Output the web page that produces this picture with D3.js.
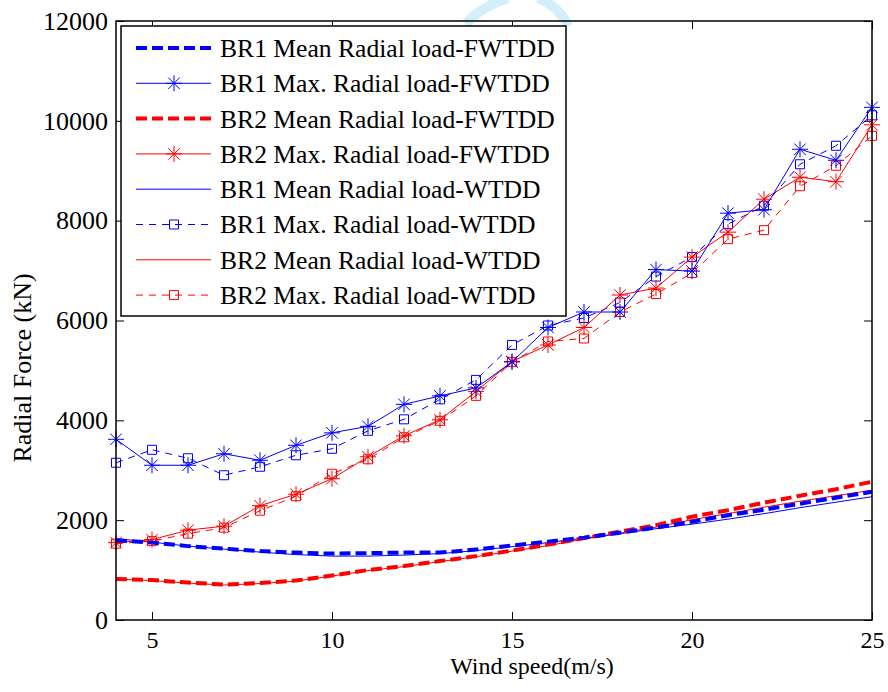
<!DOCTYPE html>
<html>
<head>
<meta charset="utf-8">
<script src="https://cdn.jsdelivr.net/npm/d3@7"></script>
<style>
  body { margin: 0; background: #fff; }
  svg text { font-family: "Liberation Serif", "Times New Roman", serif; fill: #000; }
</style>
</head>
<body>
<script>
// wind speeds (m/s)
const windSpeed = [4, 5, 6, 7, 8, 9, 10, 11, 12, 13, 14, 15, 16, 17, 18, 19, 20, 21, 22, 23, 24, 25];

// radial loads (kN)
const br1MeanFWTDD = [1600, 1550, 1480, 1430, 1380, 1350, 1330, 1340, 1350, 1350, 1410, 1490, 1570, 1650, 1750, 1850, 1970, 2100, 2210, 2330, 2450, 2570];
const br1MaxFWTDD  = [3620, 3100, 3100, 3330, 3200, 3500, 3750, 3880, 4320, 4490, 4650, 5170, 5860, 6170, 6170, 7020, 6990, 8150, 8220, 9430, 9210, 10270];
const br2MeanFWTDD = [820, 800, 750, 710, 740, 790, 890, 1000, 1080, 1180, 1280, 1390, 1510, 1640, 1770, 1900, 2070, 2200, 2350, 2490, 2620, 2770];
const br2MaxFWTDD  = [1550, 1610, 1800, 1880, 2290, 2520, 2830, 3270, 3690, 4010, 4580, 5180, 5510, 5860, 6510, 6650, 7270, 7770, 8430, 8870, 8780, 9920];
const br1MeanWTDD  = [1630, 1560, 1480, 1420, 1360, 1310, 1280, 1280, 1300, 1330, 1390, 1470, 1550, 1640, 1730, 1830, 1920, 2020, 2130, 2250, 2360, 2470];
const br1MaxWTDD   = [3150, 3410, 3240, 2900, 3070, 3300, 3430, 3790, 4020, 4420, 4810, 5510, 5900, 6050, 6360, 6880, 7270, 7930, 8300, 9130, 9500, 10110];
const br2MeanWTDD  = [820, 790, 740, 700, 730, 780, 880, 990, 1070, 1170, 1270, 1380, 1490, 1620, 1740, 1860, 2010, 2130, 2260, 2380, 2490, 2600];
const br2MaxWTDD   = [1530, 1580, 1730, 1850, 2190, 2480, 2930, 3220, 3660, 3990, 4490, 5170, 5580, 5640, 6170, 6530, 6950, 7630, 7810, 8690, 9100, 9700];

const xTicks = [5, 10, 15, 20, 25];
const yTicks = [0, 2000, 4000, 6000, 8000, 10000, 12000];

const seriesNames = [
  "BR1 Mean Radial load-FWTDD", "BR1 Max. Radial load-FWTDD",
  "BR2 Mean Radial load-FWTDD", "BR2 Max. Radial load-FWTDD",
  "BR1 Mean Radial load-WTDD", "BR1 Max. Radial load-WTDD",
  "BR2 Mean Radial load-WTDD", "BR2 Max. Radial load-WTDD"
];

const w = 888, h = 692;
const margin = {top: 21, right: 16, bottom: 72, left: 116};
const plotW = w - margin.left - margin.right;
const plotH = h - margin.top - margin.bottom;

const blue = "#0000ff", red = "#ff0000";

// styling for each series (same order as seriesNames)
const styles = [
  {values: br1MeanFWTDD, color: blue, width: 4, dash: "11,5", marker: null},
  {values: br1MaxFWTDD,  color: blue, width: 1, dash: null,   marker: "star"},
  {values: br2MeanFWTDD, color: red,  width: 4, dash: "11,5", marker: null},
  {values: br2MaxFWTDD,  color: red,  width: 1, dash: null,   marker: "star"},
  {values: br1MeanWTDD,  color: blue, width: 1, dash: null,   marker: null},
  {values: br1MaxWTDD,   color: blue, width: 1, dash: "7,6",  marker: "square"},
  {values: br2MeanWTDD,  color: red,  width: 1, dash: null,   marker: null},
  {values: br2MaxWTDD,   color: red,  width: 1, dash: "7,6",  marker: "square"}
];

const svg = d3.select("body").append("svg")
  .attr("width", w)
  .attr("height", h);

// faint watermark at the top edge
svg.append("path")
  .attr("d", "M466,24 C476,12 490,4 508,-2 M538,-2 C552,4 562,12 568,26")
  .attr("fill", "none")
  .attr("stroke", "#d2effb")
  .attr("stroke-width", 10);

const g = svg.append("g")
  .attr("transform", "translate(" + margin.left + "," + margin.top + ")");

const x = d3.scaleLinear().domain([4, 25]).range([0, plotW]);
const y = d3.scaleLinear().domain([0, 12000]).range([plotH, 0]);

// axes with inward ticks, mirrored on top/right
const tickLen = 8;
g.append("g")
  .attr("transform", "translate(0," + plotH + ")")
  .call(d3.axisBottom(x).tickValues(xTicks).tickSize(-tickLen).tickPadding(11).tickFormat(d3.format("d")))
  .call(a => a.select(".domain").remove())
  .call(a => a.selectAll("text").style("font-size", "24px"));
g.append("g")
  .call(d3.axisTop(x).tickValues(xTicks).tickSize(-tickLen).tickFormat(""))
  .call(a => a.select(".domain").remove());
g.append("g")
  .call(d3.axisLeft(y).tickValues(yTicks).tickSize(-tickLen).tickPadding(8).tickFormat(d3.format("d")))
  .call(a => a.select(".domain").remove())
  .call(a => a.selectAll("text").style("font-size", "26px"));
g.append("g")
  .attr("transform", "translate(" + plotW + ",0)")
  .call(d3.axisRight(y).tickValues(yTicks).tickSize(-tickLen).tickFormat(""))
  .call(a => a.select(".domain").remove());

g.selectAll(".tick line").attr("stroke", "#000").attr("stroke-width", 1);

// data lines
const line = d3.line()
  .x((d, i) => x(windSpeed[i]))
  .y(d => y(d));

// draw in reverse so the first series end up on top
const order = [6, 4, 7, 5, 3, 1, 2, 0];
order.forEach(k => {
  const s = styles[k];
  g.append("path")
    .datum(s.values)
    .attr("fill", "none")
    .attr("stroke", s.color)
    .attr("stroke-width", s.width)
    .attr("stroke-dasharray", s.dash)
    .attr("d", line);
  if (s.marker) {
    g.append("g").selectAll("path")
      .data(s.values)
      .enter().append("path")
      .attr("transform", (d, i) => "translate(" + x(windSpeed[i]) + "," + y(d) + ")")
      .attr("d", markerPath(s.marker))
      .attr("fill", "none")
      .attr("stroke", s.color)
      .attr("stroke-width", 1);
  }
});

function markerPath(type) {
  if (type === "star") {
    const r = 8, q = r * 0.72;
    return "M" + (-r) + ",0H" + r + "M0," + (-r) + "V" + r +
      "M" + (-q) + "," + (-q) + "L" + q + "," + q +
      "M" + (-q) + "," + q + "L" + q + "," + (-q);
  }
  return "M-4.5,-4.5H4.5V4.5H-4.5Z";
}

// frame
g.append("rect")
  .attr("width", plotW)
  .attr("height", plotH)
  .attr("fill", "none")
  .attr("stroke", "#000")
  .attr("stroke-width", 1.5);

// axis titles
svg.append("text")
  .attr("x", 532)
  .attr("y", 674)
  .attr("text-anchor", "middle")
  .style("font-size", "24px")
  .text("Wind speed(m/s)");

svg.append("text")
  .attr("transform", "translate(31,368) rotate(-90)")
  .attr("text-anchor", "middle")
  .style("font-size", "26px")
  .text("Radial Force (kN)");

// legend
const legend = svg.append("g").attr("id", "legend");
legend.append("rect")
  .attr("x", 121)
  .attr("y", 26)
  .attr("width", 445)
  .attr("height", 290)
  .attr("fill", "#fff")
  .attr("stroke", "#000")
  .attr("stroke-width", 1.5);

const items = legend.selectAll(".legend-item")
  .data(styles)
  .enter().append("g")
  .attr("class", "legend-item")
  .attr("transform", (d, i) => "translate(0," + (48 + i * 35.3) + ")");

items.append("line")
  .attr("x1", 136).attr("x2", 211)
  .attr("stroke", d => d.color)
  .attr("stroke-width", d => d.width)
  .attr("stroke-dasharray", d => d.dash);

items.filter(d => d.marker)
  .append("path")
  .attr("transform", "translate(174,0)")
  .attr("d", d => markerPath(d.marker))
  .attr("fill", "none")
  .attr("stroke", d => d.color);

items.append("text")
  .attr("x", 220)
  .attr("dy", "0.35em")
  .style("font-size", "25.6px")
  .text((d, i) => seriesNames[i]);
</script>
</body>
</html>
